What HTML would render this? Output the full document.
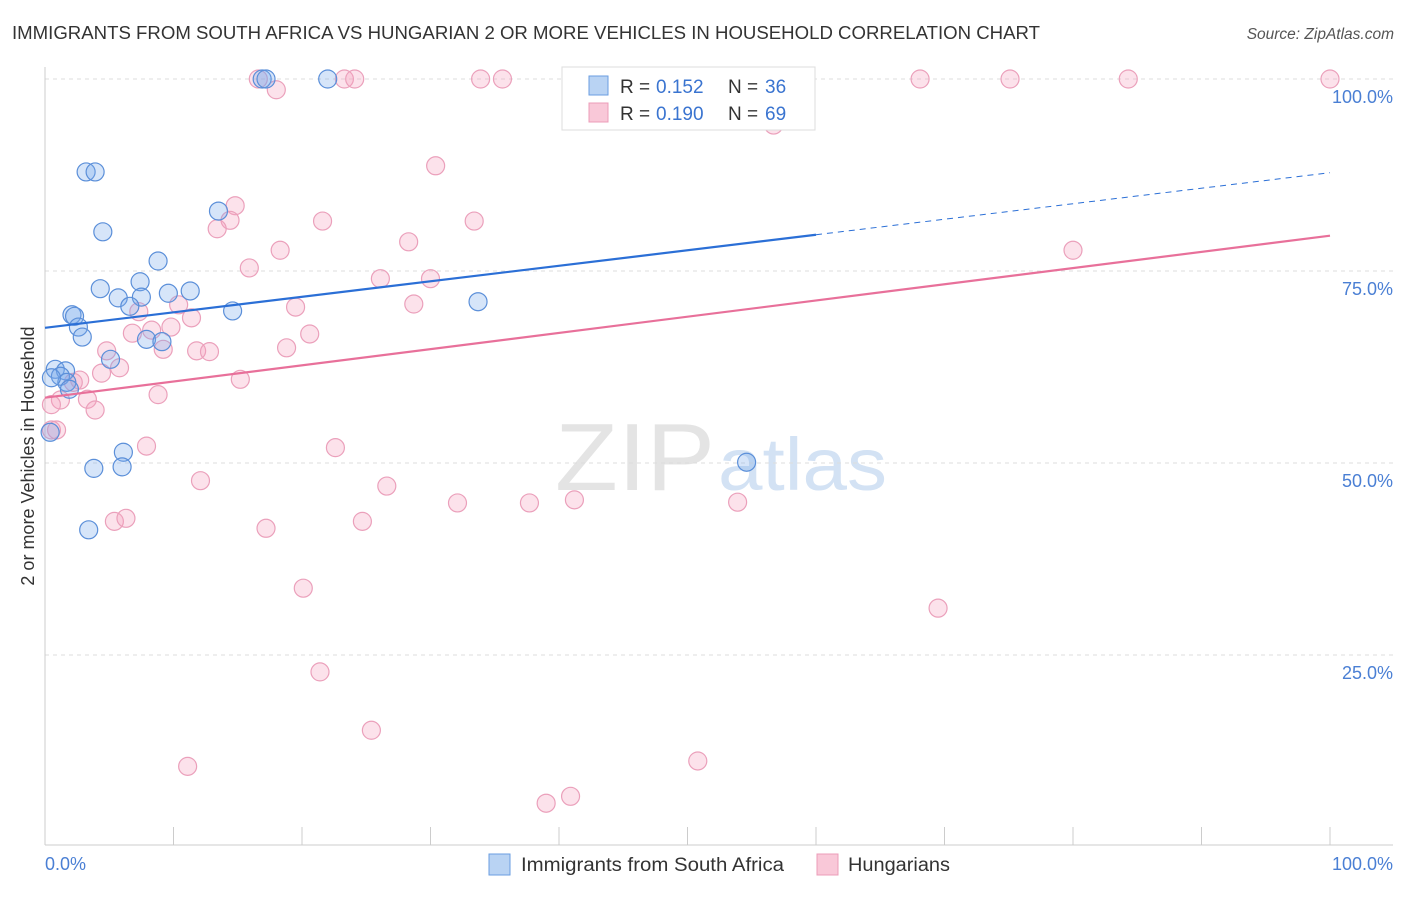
<!DOCTYPE html>
<html><head><meta charset="utf-8"><style>
body{margin:0;background:#fff;font-family:"Liberation Sans",sans-serif;}
svg text{font-family:"Liberation Sans",sans-serif;}
</style></head><body>
<svg id="chart" width="1406" height="892">
<text x="12" y="39" font-size="18" fill="#333" textLength="1028" lengthAdjust="spacingAndGlyphs">IMMIGRANTS FROM SOUTH AFRICA VS HUNGARIAN 2 OR MORE VEHICLES IN HOUSEHOLD CORRELATION CHART</text>
<text x="1394" y="39" font-size="15.5" fill="#555" text-anchor="end" font-style="italic">Source: ZipAtlas.com</text>
<text x="555" y="490" font-size="96" fill="#e4e4e4" font-family="Liberation Serif" textLength="160" lengthAdjust="spacingAndGlyphs">ZIP</text>
<text x="718" y="490" font-size="74" fill="#d3e2f4" textLength="169" lengthAdjust="spacingAndGlyphs">atlas</text>
<g id="grid"></g><g id="axes"></g><g id="pts"></g><g id="trend"></g>
<text transform="translate(34,456) rotate(-90)" font-size="18" fill="#333" text-anchor="middle">2 or more Vehicles in Household</text>
<text x="45" y="870" font-size="18" fill="#4a7fd4">0.0%</text>
<text x="1393" y="870" font-size="18" fill="#4a7fd4" text-anchor="end">100.0%</text>
<g>
<rect x="562" y="67" width="253" height="63" fill="#fff" stroke="#ddd"/>
<rect x="589" y="76" width="19" height="19" fill="#b9d3f3" stroke="#6a9ee0"/>
<rect x="589" y="103" width="19" height="19" fill="#f9c8d8" stroke="#ec9cb8"/>
<text x="620" y="93" font-size="19" fill="#333">R =</text>
<text x="656" y="93" font-size="19" fill="#3a74d0">0.152</text>
<text x="728" y="93" font-size="19" fill="#333">N =</text>
<text x="765" y="93" font-size="19" fill="#3a74d0">36</text>
<text x="620" y="120" font-size="19" fill="#333">R =</text>
<text x="656" y="120" font-size="19" fill="#3a74d0">0.190</text>
<text x="728" y="120" font-size="19" fill="#333">N =</text>
<text x="765" y="120" font-size="19" fill="#3a74d0">69</text>
</g>
<g>
<rect x="489" y="854" width="21" height="21" fill="#b9d3f3" stroke="#6a9ee0"/>
<text x="521" y="871" font-size="19" fill="#333" textLength="263" lengthAdjust="spacingAndGlyphs">Immigrants from South Africa</text>
<rect x="817" y="854" width="21" height="21" fill="#f9c8d8" stroke="#ec9cb8"/>
<text x="848" y="871" font-size="19" fill="#333" textLength="102" lengthAdjust="spacingAndGlyphs">Hungarians</text>
</g>
</svg>
<script>
const blueX=[16.9,17.2,22.0,3.2,3.9,4.5,13.5,8.8,7.4,4.3,5.7,7.5,9.6,11.3,6.6,14.6,2.1,2.3,2.6,2.9,7.9,9.1,33.7,5.1,0.8,1.6,1.2,1.7,1.9,0.4,6.1,3.8,6.0,3.4,54.6,0.5];
const blueY=[100,100,100,87.9,87.9,80.1,82.8,76.3,73.6,72.7,71.5,71.6,72.1,72.4,70.4,69.8,69.3,69.1,67.7,66.4,66.1,65.8,71.0,63.5,62.2,62.0,61.3,60.5,59.6,54.0,51.4,49.3,49.5,41.3,50.1,61.1];
const pinkX=[16.6,23.3,24.1,33.9,35.6,68.1,75.1,84.3,100,18.0,56.7,30.4,14.8,14.4,13.4,21.6,33.4,28.3,18.3,80.0,15.9,26.1,30.0,10.4,19.5,28.7,11.4,7.3,6.8,8.3,9.8,20.6,18.8,9.2,11.8,12.8,4.8,5.8,4.4,2.7,2.2,15.2,8.8,1.2,3.3,3.9,0.9,0.5,7.9,22.6,12.1,26.6,32.1,37.7,41.2,53.9,24.7,5.4,6.3,17.2,20.1,69.5,21.4,25.4,11.1,50.8,39.0,40.9,0.5];
const pinkY=[100,100,100,100,100,100,100,100,100,98.6,94.0,88.7,83.5,81.6,80.5,81.5,81.5,78.8,77.7,77.7,75.4,74.0,74.0,70.6,70.3,70.7,68.9,69.7,66.9,67.3,67.7,66.8,65.0,64.8,64.6,64.5,64.6,62.4,61.7,60.8,60.5,60.9,58.9,58.2,58.3,56.9,54.3,57.6,52.2,52.0,47.7,47.0,44.8,44.8,45.2,44.9,42.4,42.4,42.8,41.5,33.7,31.1,22.8,15.2,10.5,11.2,5.7,6.6,54.3];
const blueTrend=[67.6,87.8];
const pinkTrend=[58.5,79.6];
const yTicks=[100,75,50,25];
const yTickLabels=["100.0%","75.0%","50.0%","25.0%"];
const xTicks=[0,10,20,30,40,50,60,70,80,90,100];
const NS="http://www.w3.org/2000/svg";
const sx=v=>45+v*12.85, sy=v=>847-v*7.68;
function mk(t,a,p){const e=document.createElementNS(NS,t);for(const k in a)e.setAttribute(k,a[k]);p.appendChild(e);return e;}
const grid=document.getElementById('grid'),axes=document.getElementById('axes'),pts=document.getElementById('pts'),tr=document.getElementById('trend');
yTicks.forEach((v,i)=>{
 const l=mk('line',{x1:45,x2:1393,y1:sy(v),y2:sy(v),stroke:'#ddd','stroke-dasharray':'4,4'},grid);
 
 
 const t=mk('text',{x:1393,y:sy(v)+24,'font-size':18,fill:'#4a7fd4','text-anchor':'end'},grid);
 t.textContent=yTickLabels[i];
 
 
});
const ax=mk('line',{x1:45,x2:45,y1:67,y2:845,stroke:'#ccc'},axes);


const bx=mk('line',{x1:45,x2:1393,y1:845,y2:845,stroke:'#ccc'},axes);


xTicks.forEach(v=>{
 const t=mk('line',{x1:sx(v),x2:sx(v),y1:827,y2:845,stroke:'#ccc'},axes);
 
 
});
pinkX.forEach((x,i)=>{
 const c=mk('circle',{cx:sx(x),cy:sy(pinkY[i]),r:9,fill:'rgba(244,160,190,0.3)',stroke:'#eba0bb','stroke-width':1.2},pts);
 
 
});
blueX.forEach((x,i)=>{
 const c=mk('circle',{cx:sx(x),cy:sy(blueY[i]),r:9,fill:'rgba(120,170,235,0.3)',stroke:'#5b8fd9','stroke-width':1.2},pts);
 
 
});
const by=x=>blueTrend[0]+(blueTrend[1]-blueTrend[0])*x/100;
const b1=mk('line',{x1:sx(0),y1:sy(by(0)),x2:sx(60),y2:sy(by(60)),stroke:'#2b6fd6','stroke-width':2.2},tr);


const b2=mk('line',{x1:sx(60),y1:sy(by(60)),x2:sx(100),y2:sy(by(100)),stroke:'#2b6fd6','stroke-width':1,'stroke-dasharray':'6,5'},tr);


const p1=mk('line',{x1:sx(0),y1:sy(pinkTrend[0]),x2:sx(100),y2:sy(pinkTrend[1]),stroke:'#e8709a','stroke-width':2.2},tr);


</script>
</body></html>
